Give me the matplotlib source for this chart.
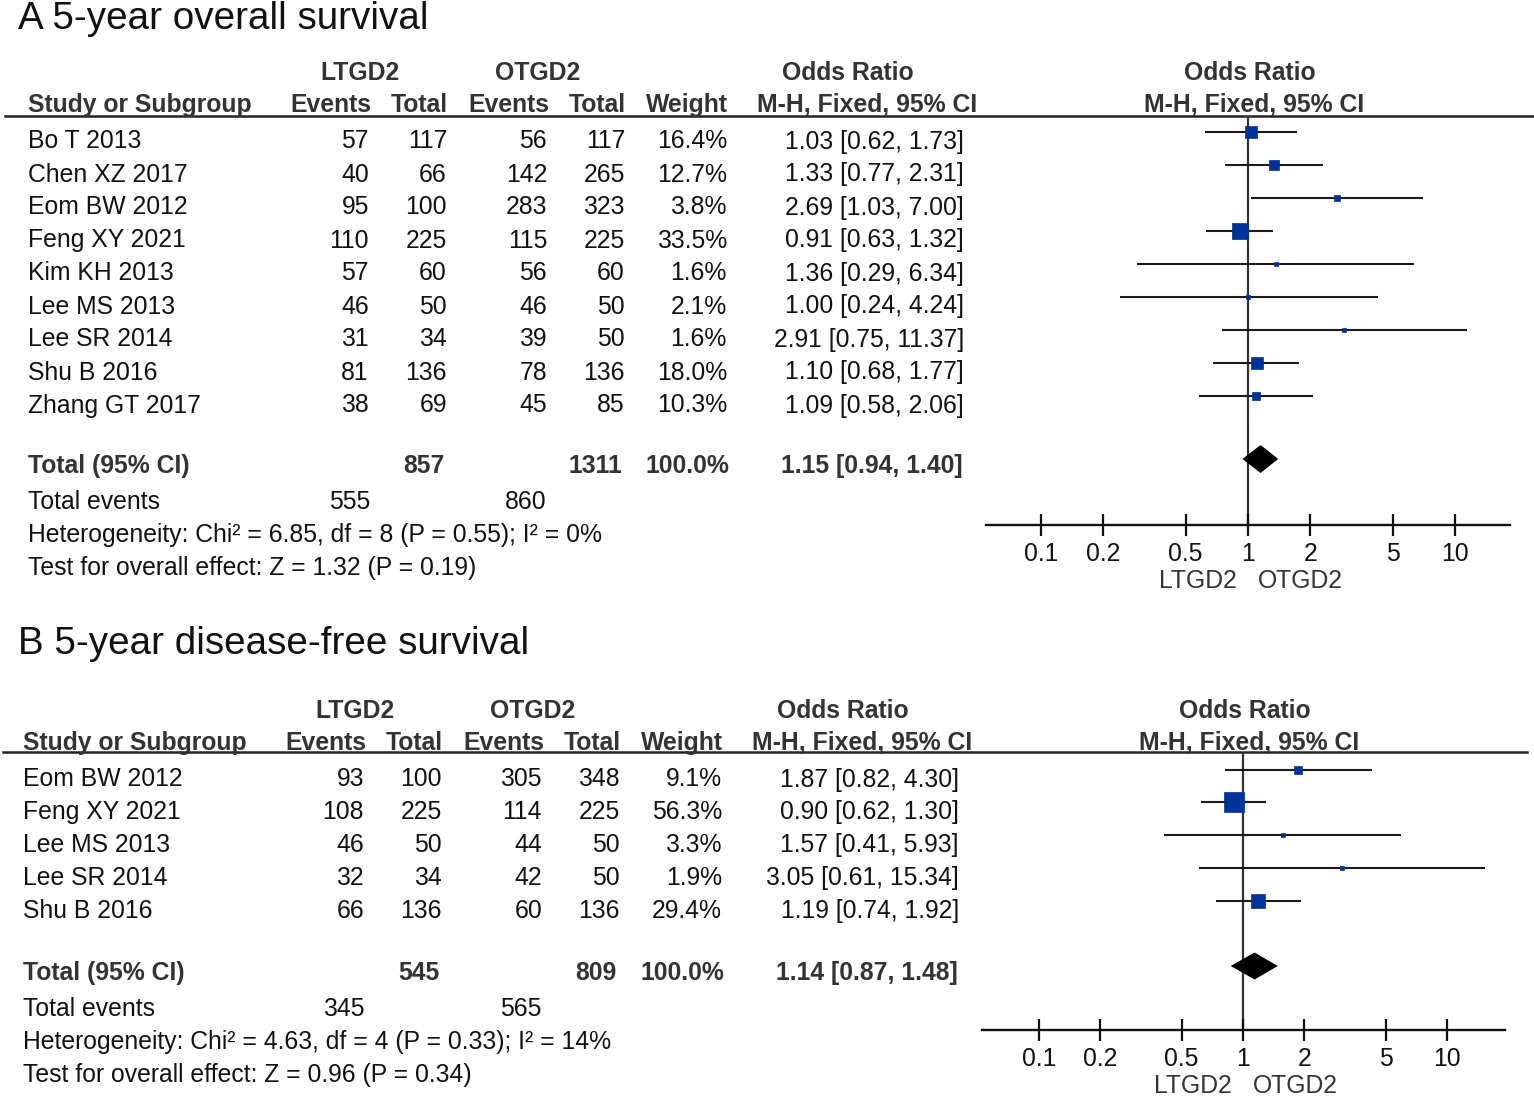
import numpy as np
import matplotlib
matplotlib.use("Agg")
import matplotlib.pyplot as plt

plt.rcParams['font.family'] = ['Liberation Sans', 'DejaVu Sans']

# ---- data: A 5-year overall survival
A_study = ["Bo T 2013", "Chen XZ 2017", "Eom BW 2012", "Feng XY 2021", "Kim KH 2013",
           "Lee MS 2013", "Lee SR 2014", "Shu B 2016", "Zhang GT 2017"]
A_ev1 = [57, 40, 95, 110, 57, 46, 31, 81, 38]
A_tot1 = [117, 66, 100, 225, 60, 50, 34, 136, 69]
A_ev2 = [56, 142, 283, 115, 56, 46, 39, 78, 45]
A_tot2 = [117, 265, 323, 225, 60, 50, 50, 136, 85]
A_weight = [16.4, 12.7, 3.8, 33.5, 1.6, 2.1, 1.6, 18.0, 10.3]
A_or = [1.03, 1.33, 2.69, 0.91, 1.36, 1.00, 2.91, 1.10, 1.09]
A_lo = [0.62, 0.77, 1.03, 0.63, 0.29, 0.24, 0.75, 0.68, 0.58]
A_hi = [1.73, 2.31, 7.00, 1.32, 6.34, 4.24, 11.37, 1.77, 2.06]
A_pooled = [1.15, 0.94, 1.40]
A_het = "Heterogeneity: Chi² = 6.85, df = 8 (P = 0.55); I² = 0%"
A_test = "Test for overall effect: Z = 1.32 (P = 0.19)"

# ---- data: B 5-year disease-free survival
B_study = ["Eom BW 2012", "Feng XY 2021", "Lee MS 2013", "Lee SR 2014", "Shu B 2016"]
B_ev1 = [93, 108, 46, 32, 66]
B_tot1 = [100, 225, 50, 34, 136]
B_ev2 = [305, 114, 44, 42, 60]
B_tot2 = [348, 225, 50, 50, 136]
B_weight = [9.1, 56.3, 3.3, 1.9, 29.4]
B_or = [1.87, 0.90, 1.57, 3.05, 1.19]
B_lo = [0.82, 0.62, 0.41, 0.61, 0.74]
B_hi = [4.30, 1.30, 5.93, 15.34, 1.92]
B_pooled = [1.14, 0.87, 1.48]
B_het = "Heterogeneity: Chi² = 4.63, df = 4 (P = 0.33); I² = 14%"
B_test = "Test for overall effect: Z = 0.96 (P = 0.34)"

ticks = [0.1, 0.2, 0.5, 1, 2, 5, 10]
tick_labels = ["0.1", "0.2", "0.5", "1", "2", "5", "10"]

W, H = 1534, 1097
FS = 17.8
HEAD = '#333333'
TXT = '#111111'
BLUE = '#003399'

fig = plt.figure(figsize=(W / 100, H / 100), dpi=100)
bg = fig.add_axes([0, 0, 1, 1])
bg.set_xlim(0, W)
bg.set_ylim(H, 0)
bg.axis('off')


def panel(title, study, ev1, tot1, ev2, tot2, weight, orr, lo, hi, pooled, het, test, L):
    dx = L['dx']
    bg.text(18, L['title'], title, fontsize=27.8, va='baseline', color=TXT)

    # en-tetes
    hk = dict(fontsize=FS, fontweight='bold', color=HEAD, va='baseline')
    bg.text(360 + dx, L['h1'], "LTGD2", ha='center', **hk)
    bg.text(538 + dx, L['h1'], "OTGD2", ha='center', **hk)
    bg.text(848 + dx, L['h1'], "Odds Ratio", ha='center', **hk)
    bg.text(L['one'] + 2, L['h1'], "Odds Ratio", ha='center', **hk)
    bg.text(28 + dx, L['h2'], "Study or Subgroup", ha='left', **hk)
    bg.text(371 + dx, L['h2'], "Events", ha='right', **hk)
    bg.text(448 + dx, L['h2'], "Total", ha='right', **hk)
    bg.text(549 + dx, L['h2'], "Events", ha='right', **hk)
    bg.text(626 + dx, L['h2'], "Total", ha='right', **hk)
    bg.text(728 + dx, L['h2'], "Weight", ha='right', **hk)
    bg.text(867 + dx, L['h2'], "M-H, Fixed, 95% CI", ha='center', **hk)
    bg.text(L['one'] + 6, L['h2'], "M-H, Fixed, 95% CI", ha='center', **hk)
    bg.plot([L['line_x0'], L['line_x1']], [L['line'], L['line']], color='#222222', lw=1.8)

    # linhas dos estudos
    rk = dict(fontsize=FS, color=TXT, va='baseline')
    ys = [L['row0'] + i * L['dy'] for i in range(len(study))]
    for i, y in enumerate(ys):
        bg.text(28 + dx, y, study[i], ha='left', **rk)
        bg.text(369 + dx, y, str(ev1[i]), ha='right', **rk)
        bg.text(447 + dx, y, str(tot1[i]), ha='right', **rk)
        bg.text(547 + dx, y, str(ev2[i]), ha='right', **rk)
        bg.text(625 + dx, y, str(tot2[i]), ha='right', **rk)
        bg.text(727 + dx, y, f"{weight[i]:.1f}%", ha='right', **rk)
        bg.text(964 + dx, y, f"{orr[i]:.2f} [{lo[i]:.2f}, {hi[i]:.2f}]", ha='right', **rk)

    # totais
    yt = L['total']
    bk = dict(fontsize=FS, fontweight='bold', color=HEAD, va='baseline')
    bg.text(28 + dx, yt, "Total (95% CI)", ha='left', **bk)
    bg.text(445 + dx, yt, str(sum(tot1)), ha='right', **bk)
    bg.text(622 + dx, yt, str(sum(tot2)), ha='right', **bk)
    bg.text(729 + dx, yt, "100.0%", ha='right', **bk)
    bg.text(963 + dx, yt, f"{pooled[0]:.2f} [{pooled[1]:.2f}, {pooled[2]:.2f}]", ha='right', **bk)
    bg.text(28 + dx, L['tev'], "Total events", ha='left', **rk)
    bg.text(370 + dx, L['tev'], str(sum(ev1)), ha='right', **rk)
    bg.text(546 + dx, L['tev'], str(sum(ev2)), ha='right', **rk)
    bg.text(28 + dx, L['het'], het, ha='left', **rk)
    bg.text(28 + dx, L['test'], test, ha='left', **rk)

    # forest plot
    x0, x1, y0, y1 = L['fx0'], L['fx1'], L['line'], L['axis']
    ax = fig.add_axes([x0 / W, 1 - y1 / H, (x1 - x0) / W, (y1 - y0) / H])
    ax.patch.set_alpha(0)
    ax.set_xscale('log')
    half = (x1 - L['one']) / L['decade']
    left = (L['one'] - x0) / L['decade']
    ax.set_xlim(10 ** -left, 10 ** half)
    ax.set_ylim(y1, y0)
    for s in ['top', 'left', 'right']:
        ax.spines[s].set_visible(False)
    ax.spines['bottom'].set_linewidth(1.7)
    ax.spines['bottom'].set_color('#111111')
    ax.set_yticks([])
    ax.set_xticks(ticks)
    ax.set_xticklabels(tick_labels)
    ax.minorticks_off()
    ax.tick_params(axis='x', direction='inout', length=16, width=1.6, color='#111111',
                   labelsize=FS, pad=4, labelcolor=TXT)
    ax.axvline(1, color='#333333', lw=1.6, zorder=1)

    fy = [y - 17 for y in ys]
    ax.hlines(fy, lo, hi, color='#1a1a1a', lw=1.5, zorder=2)
    sides = [max(4.0, 2.75 * np.sqrt(w)) * 0.72 for w in weight]
    for i in range(len(study)):
        ax.plot(orr[i], fy[i], marker='s', ms=sides[i], color=BLUE, mec=BLUE, mew=0.5,
                ls='none', zorder=3)
    dy = L['dh'] / 2
    dyc = yt - 14
    ax.fill([pooled[1], pooled[0], pooled[2], pooled[0]],
            [dyc, dyc - dy, dyc, dyc + dy], color='black', zorder=3, lw=0)

    bg.text(L['one'] - 11, L['fav'], "LTGD2", ha='right', va='baseline', fontsize=FS, color=HEAD)
    bg.text(L['one'] + 10, L['fav'], "OTGD2", ha='left', va='baseline', fontsize=FS, color=HEAD)


LA = dict(dx=0, title=29, h1=80, h2=112, line=116, line_x0=5, line_x1=1534,
          row0=148.5, dy=33, total=473, tev=509, het=542, test=575,
          fx0=986, fx1=1510, one=1248, decade=207, axis=525, dh=28, fav=588)
LB = dict(dx=-5, title=654, h1=718, h2=750, line=752, line_x0=3, line_x1=1527,
          row0=786.5, dy=32.8, total=980, tev=1016, het=1049, test=1082,
          fx0=982, fx1=1505, one=1243, decade=204, axis=1030, dh=27, fav=1093)

panel("A 5-year overall survival", A_study, A_ev1, A_tot1, A_ev2, A_tot2, A_weight,
      A_or, A_lo, A_hi, A_pooled, A_het, A_test, LA)
panel("B 5-year disease-free survival", B_study, B_ev1, B_tot1, B_ev2, B_tot2, B_weight,
      B_or, B_lo, B_hi, B_pooled, B_het, B_test, LB)

fig.savefig("out.png", dpi=100)
